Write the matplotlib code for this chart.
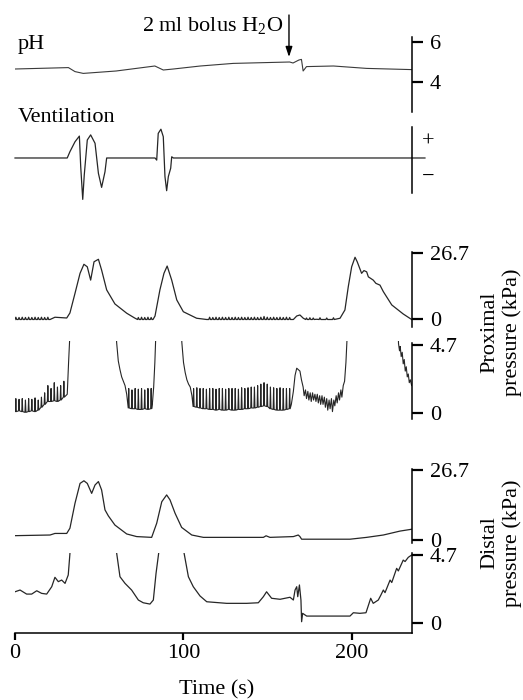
import numpy as np
import matplotlib
matplotlib.use('Agg')
import matplotlib.pyplot as plt

plt.rcParams['font.family'] = ['Liberation Serif', 'DejaVu Serif']
plt.rcParams['mathtext.fontset'] = 'custom'
plt.rcParams['mathtext.rm'] = 'Liberation Serif'

# ---------------- data ----------------
ph_t = [0, 31.7, 35.6, 40.5, 60, 83, 88, 94, 110, 129.5, 163, 165, 168.5, 170, 171, 173, 189, 208.7, 235.4]
ph_v = [4.65, 4.72, 4.52, 4.43, 4.55, 4.8, 4.6, 4.65, 4.8, 4.93, 5.0, 4.95, 5.1, 5.13, 4.55, 4.77, 4.8, 4.68, 4.62]

vent_t = [0, 31, 32.6, 35.6, 38.2, 39.0, 40.2, 41.1, 42.9, 44.9, 47.5, 49.5, 51.4, 53.4, 54.4, 56.4,
          83.1, 84.1, 85.0, 86.6, 88.0, 89.0, 90.0, 91.0, 92.4, 93.0, 94.0, 243.3]
vent_v = [0, 0, 0.21, 0.54, 0.73, -0.29, -1.38, -0.57, 0.6, 0.77, 0.49, -0.51, -0.98, -0.46, 0, 0,
          0, -0.07, 0.82, 0.96, 0.71, -0.62, -1.09, -0.62, -0.34, 0.04, 0, 0]

prox_hi_t = [0, 20.8, 23.7, 30.7, 32.6, 35.6, 38.6, 40.9, 42.9, 44.9, 46.9, 49.5, 51.4, 54.4, 59.3, 66.3,
             71.0, 81.9, 83.1, 86.0, 88.4, 90.3, 93.0, 96.0, 99.9, 107.8, 113.8, 165.2, 167.2, 169.1,
             171.1, 179.0, 192.9, 195.8, 197.8, 199.8, 201.8, 203.1, 205.7, 207.1, 208.7, 209.7, 212.6,
             214.2, 216.6, 218.6, 223.6, 230.4, 235.4]
prox_hi_v = [0, 0, 0.9, 0.6, 2.6, 10.4, 18.4, 22.0, 21.0, 15.7, 23.0, 24.0, 19.7, 11.8, 6.2, 2.5,
             0.6, 0, 1.4, 11.8, 18.4, 21.3, 15.7, 7.8, 3.1, 0.5, 0, 0, 1.4, 1.8,
             0.5, 0.1, 0.5, 3.8, 13.1, 21.0, 24.8, 23.0, 18.4, 19.5, 19.0, 17.0, 15.7,
             14.4, 13.7, 11.1, 5.8, 2.2, 0]
# small respiratory ripple on the proximal baseline
prox_hi_ripple_t = [0.5, 2.4, 4.3, 6.2, 8.1, 10.0, 11.9, 13.8, 15.7, 17.6, 19.5,
                    73.2, 75.1, 77.0, 78.9, 80.8,
                    115.5, 117.4, 119.3, 121.2, 123.1, 125.0, 126.9, 128.8, 130.7, 132.6, 134.5,
                    136.4, 138.3, 140.2, 142.1, 144.0, 145.9, 147.8, 149.7, 151.6, 153.5, 155.4,
                    157.3, 159.2, 161.1, 163.0, 173.0, 175.0, 177.0, 181.0, 185.0, 189.0]
prox_hi_ripple_v = [0.9, 0.8, 0.9, 0.8, 0.9, 0.8, 0.9, 0.8, 0.9, 0.8, 0.9,
                    0.8, 0.9, 0.8, 0.9, 0.8,
                    0.9, 0.8, 0.9, 0.8, 0.9, 0.8, 0.9, 0.8, 0.9, 0.8, 0.9,
                    0.8, 0.9, 0.8, 0.9, 0.8, 0.9, 1.2, 0.9, 0.8, 0.9, 0.8,
                    0.9, 0.8, 0.9, 0.8, 0.6, 0.7, 0.6, 0.7, 0.6, 0.7]

# lower (expanded) proximal trace: slow path + respiratory spikes
prox_lo_t = [0.0, 31.0, 31.8, 32.6, 33.5,
             59.5, 60.3, 61.3, 62.3, 63.3, 64.3, 65.3, 66.3, 81.5, 82.3, 83.0, 83.6, 84.2,
             98.5, 99.0, 100.0, 101.0, 102.0, 103.0, 104.0, 105.0,
             164.0, 165.2, 166.2, 167.2, 168.2, 169.1, 170.0, 171.0,
             171.6, 172.4, 173.0, 173.8, 174.4, 175.2, 175.8, 176.6, 177.2, 178.0, 178.6, 179.4, 180.0,
             180.8, 181.4, 182.2, 182.8, 183.6, 184.2, 185.0, 185.6, 186.4, 187.0, 187.8, 188.4, 189.2,
             189.8, 190.6, 191.2, 192.0, 192.6, 193.4, 194.0, 194.8, 195.6, 196.4, 197.0, 197.6,
             227.0, 227.6, 228.2, 228.6, 229.2, 229.8, 230.4, 231.0, 231.6, 232.2, 232.8, 233.4, 234.0,
             234.6, 235.4]
prox_lo_v = [0.1, 1.3, 3.5, 5.5, 8,
             8, 4.9, 3.6, 3.0, 2.5, 2.2, 1.9, 1.3, 0.6, 1.8, 3.5, 5.5, 8,
             8, 4.9, 3.5, 2.8, 2.3, 2.0, 1.8, 1.2,
             0.6, 1.5, 2.6, 3.1, 3.0, 2.9, 2.3, 1.8,
             1.2, 1.6, 1.0, 1.5, 0.9, 1.4, 0.8, 1.4, 0.9, 1.3, 0.8, 1.3, 0.7,
             1.2, 0.6, 1.2, 0.6, 1.1, 0.4, 1.0, 0.2, 0.9, 0.3, 1.0, 0.1, 0.9,
             0.5, 1.2, 0.7, 1.4, 0.9, 1.6, 1.1, 1.9, 2.2, 3.5, 5.0, 8,
             8, 4.8, 4.3, 4.6, 3.9, 4.2, 3.4, 3.7, 2.9, 3.2, 2.5, 2.7, 2.1,
             2.3, 1.9]
prox_lo_spike_t = [0.5, 2.4, 4.3, 6.2, 8.1, 10.0, 11.9, 13.8, 15.7, 17.6, 19.5, 21.4, 23.3, 25.2, 27.1, 29.0,
                   67.5, 69.4, 71.3, 73.2, 75.1, 77.0, 78.9, 80.8,
                   106.0, 107.9, 109.8, 111.7, 113.6, 115.5, 117.4, 119.3, 121.2, 123.1, 125.0, 126.9,
                   128.8, 130.7, 132.6, 134.5, 136.4, 138.3, 140.2, 142.1, 144.0, 145.9, 147.8, 149.7,
                   151.6, 153.5, 155.4, 157.3, 159.2, 161.1, 163.0]
prox_lo_spike_top = [1.0, 0.95, 1.0, 0.9, 1.0, 0.95, 1.05, 0.9, 1.1, 1.4, 1.9, 1.7, 2.1, 1.8, 1.9, 2.2,
                     1.7, 1.6, 1.7, 1.65, 1.7, 1.6, 1.7, 1.7,
                     1.7, 1.75, 1.7, 1.7, 1.65, 1.7, 1.7, 1.65, 1.7, 1.7, 1.65, 1.7,
                     1.7, 1.7, 1.65, 1.75, 1.7, 1.75, 1.8, 1.8, 1.9, 2.0, 2.1, 2.0,
                     1.8, 1.75, 1.7, 1.75, 1.7, 1.7, 1.7]
prox_lo_spike_base = [0.1, 0.15, 0.1, 0.05, 0.1, 0.15, 0.1, 0.2, 0.4, 0.6, 0.8, 0.8, 0.85, 0.8, 0.9, 1.1,
                      0.35, 0.3, 0.3, 0.25, 0.25, 0.3, 0.25, 0.3,
                      0.45, 0.4, 0.35, 0.3, 0.3, 0.25, 0.25, 0.2, 0.25, 0.2, 0.2, 0.25,
                      0.2, 0.2, 0.25, 0.25, 0.3, 0.3, 0.35, 0.35, 0.4, 0.45, 0.5, 0.45,
                      0.3, 0.25, 0.2, 0.2, 0.2, 0.25, 0.3]

dist_hi_t = [0, 20.8, 23.7, 30.7, 32.6, 35.6, 38.6, 40.9, 42.9, 45.5, 47.5, 49.5, 51.4, 53.4, 55.4, 59.3,
             66.3, 72.2, 81.1, 84.1, 87.1, 90.0, 92.0, 95.0, 98.9, 104.9, 111.8, 147.4, 149.0, 151.3,
             165.2, 168.1, 169.1, 170.1, 198.8, 208.7, 218.6, 228.5, 235.4]
dist_hi_v = [1.65, 1.9, 2.5, 2.5, 4.5, 14.0, 21.6, 22.6, 21.6, 17.8, 21.0, 22.3, 19.1, 11.5, 9.2, 5.7,
             2.3, 1.3, 1.0, 6.4, 14.6, 17.2, 15.3, 10.2, 4.8, 1.9, 1.0, 1.0, 1.6, 1.0,
             1.3, 1.9, 1.3, 0.3, 0.3, 1.0, 1.9, 3.4, 4.1]

dist_lo_t = [0, 3.0, 6.9, 9.9, 12.9, 15.8, 18.8, 21.8, 23.7, 25.7, 27.7, 29.7, 31.6, 32.6, 33.2,
             59.8, 60.3, 62.3, 65.3, 69.2, 73.2, 76.1, 80.1, 82.1, 83.7, 85.3, 85.8,
             99.8, 100.3, 102.9, 105.8, 109.8, 113.8, 125.6, 137.5, 144.4, 147.4, 149.3, 152.3, 157.3,
             163.2, 165.2, 166.2, 167.2, 167.8, 168.8, 169.7, 170.1, 170.7, 173.1, 198.8, 200.8, 204.7,
             208.3, 211.1, 212.6, 215.6, 217.0, 218.6, 219.6, 222.6, 223.6, 226.5, 227.5, 230.4, 231.5,
             233.4, 235.4]
dist_lo_v = [2.16, 2.28, 2.0, 2.0, 2.23, 2.05, 2.0, 2.51, 3.16, 2.86, 2.97, 2.74, 3.32, 4.8, 8,
             8, 4.86, 3.2, 2.74, 2.28, 1.59, 1.4, 1.31, 1.59, 3.43, 4.86, 8,
             8, 4.86, 3.2, 2.51, 1.87, 1.47, 1.36, 1.36, 1.4, 1.82, 2.16, 1.71, 1.64,
             1.78, 1.59, 2.28, 2.51, 1.82, 2.63, 1.59, 0.09, 0.67, 0.48, 0.48, 0.71, 0.67,
             0.71, 1.71, 1.36, 1.59, 1.9, 2.28, 2.1, 2.97, 2.8, 3.78, 3.6, 4.35, 4.25,
             4.54, 4.7]

x_ticks = [0, 100, 200]


def with_spikes(t, v, st, stop, sbase, half=0.3):
    """Merge a slow path with spikes (base -> top -> base) and sort by time."""
    pts = list(zip(t, v))
    for s, top, base in zip(st, stop, sbase):
        pts += [(s - half, base), (s, top), (s + half, base)]
    pts.sort(key=lambda p: p[0])
    return [p[0] for p in pts], [p[1] for p in pts]


# ---------------- layout ----------------
W, H = 523, 700
XL, XR = 15, 412
PX_PER_S = 1.685
XMAX = (XR - XL) / PX_PER_S
FS = 16
LC = '#262626'
LW = 0.9

fig = plt.figure(figsize=(W / 100, H / 100), dpi=100)


def make_ax(top, bottom, ylim):
    ax = fig.add_axes([XL / W, 1 - bottom / H, (XR - XL) / W, (bottom - top) / H])
    ax.set_xlim(0, XMAX)
    ax.set_ylim(*ylim)
    ax.patch.set_alpha(0)
    for s in ['top', 'left', 'bottom']:
        ax.spines[s].set_visible(False)
    ax.spines['right'].set_linewidth(1.1)
    ax.yaxis.tick_right()
    ax.tick_params(axis='y', direction='out', length=8, width=1.6, pad=5, labelsize=FS)
    ax.set_xticks([])
    return ax


# pH
ax_ph = make_ax(37, 112, (2.5, 6.25))
ax_ph.plot(ph_t, ph_v, color='#3a3a3a', lw=0.8)
ax_ph.set_yticks([4, 6])
ax_ph.set_yticklabels(['4', '6'])
fig.text(18 / W, 1 - 45 / H, 'pH', fontsize=FS, ha='left', va='center')
ax_ph.annotate('', xy=(162.6, 5.25), xytext=(162.6, 7.35), annotation_clip=False,
               arrowprops=dict(arrowstyle='-|>,head_length=0.6,head_width=0.2', color='black', lw=1.0,
                               shrinkA=0, shrinkB=0))
ax_ph.text(159.5, 6.8, '2 ml bolus H$_\\mathrm{2}$O', fontsize=FS, ha='right', va='center', clip_on=False)

# Ventilation
ax_v = make_ax(127, 193, (-1.167, 1.033))
ax_v.plot(vent_t, vent_v, color=LC, lw=LW, clip_on=False)
ax_v.set_yticks([])
fig.text(18 / W, 1 - 118 / H, 'Ventilation', fontsize=FS, ha='left', va='center')
fig.text(428 / W, 1 - 142 / H, '+', fontsize=FS, ha='center', va='center')
fig.text(428 / W, 1 - 177 / H, '\u2212', fontsize=FS, ha='center', va='center')

# Proximal pressure
ax_p1 = make_ax(252, 327, (-2.99, 26.9))
pt, pv = with_spikes(prox_hi_t, prox_hi_v, prox_hi_ripple_t, prox_hi_ripple_v,
                     [0] * len(prox_hi_ripple_t), half=0.5)
ax_p1.plot(pt, pv, color=LC, lw=LW)
ax_p1.set_yticks([0, 26.7])
ax_p1.set_yticklabels(['0', '26.7'])

ax_p2 = make_ax(341, 419, (-0.41, 4.98))
lt, lv = with_spikes(prox_lo_t, prox_lo_v, prox_lo_spike_t, prox_lo_spike_top, prox_lo_spike_base, half=0.3)
ax_p2.plot(lt, lv, color=LC, lw=0.8)
ax_p2.spines['right'].set_bounds(-0.41, 4.84)
ax_p2.set_yticks([0, 4.7])
ax_p2.set_yticklabels(['0', '4.7'])

fig.text(501 / W, 1 - 332 / H, 'Proximal\npressure (kPa)', fontsize=FS, rotation=90,
         ha='center', va='center', linespacing=1.2, multialignment='center')

# Distal pressure
ax_d1 = make_ax(469, 543, (-1.15, 27.1))
ax_d1.plot(dist_hi_t, dist_hi_v, color=LC, lw=LW)
ax_d1.set_yticks([0, 26.7])
ax_d1.set_yticklabels(['0', '26.7'])

ax_d2 = make_ax(553, 633, (-0.69, 4.84))
ax_d2.plot(dist_lo_t, dist_lo_v, color=LC, lw=LW)
ax_d2.set_yticks([0, 4.7])
ax_d2.set_yticklabels(['0', '4.7'])
ax_d2.spines['bottom'].set_visible(True)
ax_d2.spines['bottom'].set_linewidth(1.1)
ax_d2.set_xticks(x_ticks)
ax_d2.set_xticklabels([str(v) for v in x_ticks])
ax_d2.tick_params(axis='x', direction='out', length=5, width=1.6, pad=3, labelsize=FS)

fig.text(501 / W, 1 - 543 / H, 'Distal\npressure (kPa)', fontsize=FS, rotation=90,
         ha='center', va='center', linespacing=1.2, multialignment='center')

fig.text(217 / W, 1 - 690 / H, 'Time (s)', fontsize=FS, ha='center', va='center')

fig.savefig('out.png', dpi=100, facecolor='white')
